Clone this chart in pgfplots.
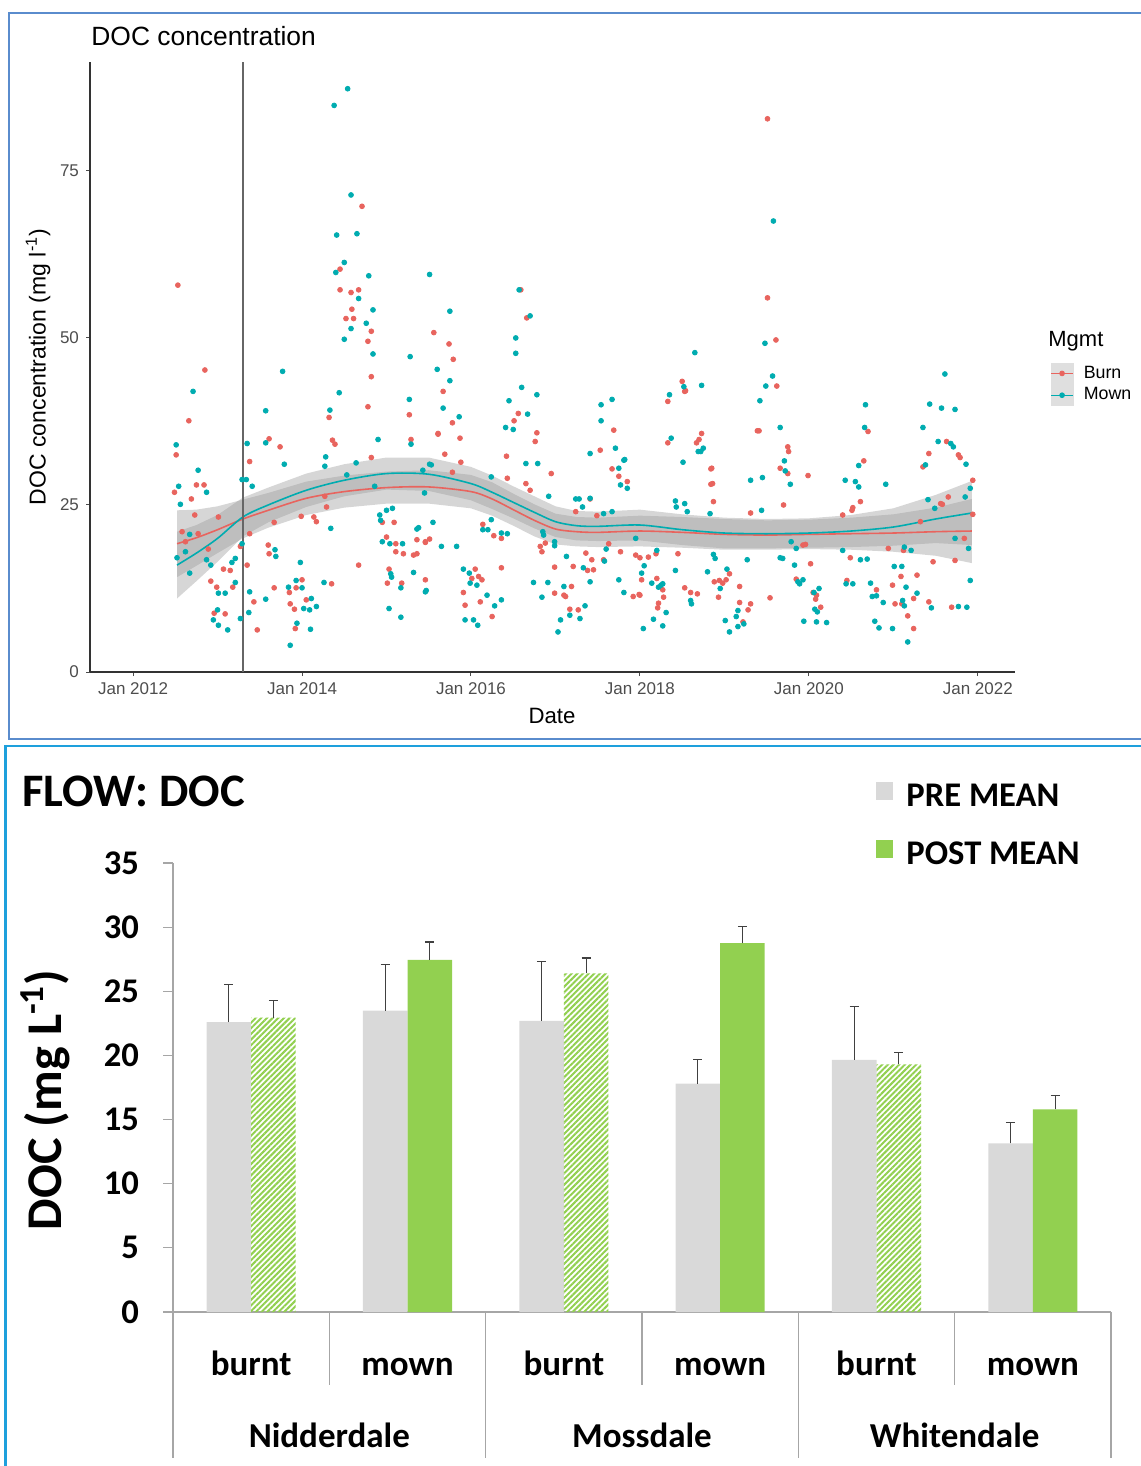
\documentclass[border=0pt]{standalone}
\usepackage{fontspec}
\setmainfont{Liberation Sans}
\newfontfamily\carlito{Carlito}
\usepackage{pgfplots}
\pgfplotsset{compat=1.18}
\usepgfplotslibrary{fillbetween}
\usetikzlibrary{patterns.meta}

\definecolor{burn}{RGB}{232,100,94}
\definecolor{mown}{RGB}{0,172,176}
\definecolor{band}{RGB}{153,153,153}
\definecolor{pregray}{RGB}{217,217,217}
\definecolor{postgreen}{RGB}{146,208,80}
\definecolor{framea}{RGB}{90,140,205}
\definecolor{frameb}{RGB}{30,160,220}
\definecolor{tickgray}{RGB}{77,77,77}
\definecolor{axgray}{RGB}{166,166,166}

\begin{document}
\begin{tikzpicture}
% panel frames
\draw[framea, line width=1pt] (575pt,-6.5pt) -- (4.5pt,-6.5pt) -- (4.5pt,-369.5pt) -- (575pt,-369.5pt);
\draw[frameb, line width=1.2pt] (575pt,-373pt) -- (2.75pt,-373pt) -- (2.75pt,-740pt);

% ---------------- top panel ----------------
\node[anchor=base west, inner sep=0pt, font=\fontsize{13.2}{15}\selectfont] at (45.5pt,-23pt) {DOC concentration};
\node[anchor=base, font=\fontsize{11.1}{13}\selectfont] at (276pt,-361.5pt) {Date};
\node[rotate=90, font=\fontsize{11.5}{13}\selectfont] at (19pt,-183.5pt) {DOC concentration (mg l\textsuperscript{-1})};
\node[anchor=west, inner sep=0pt, font=\fontsize{11}{13}\selectfont] at (524pt,-170.5pt) {Mgmt};

\begin{axis}[
  at={(45pt,-336pt)}, anchor=south west,
  scale only axis, width=462.5pt, height=305pt,
  xmin=2011.49, xmax=2022.44, ymin=0, ymax=91.3,
  axis x line*=bottom, axis y line*=left,
  axis line style={black!80, line width=0.9pt, -},
  xtick={2012,2014,2016,2018,2020,2022},
  xticklabels={Jan 2012, Jan 2014, Jan 2016, Jan 2018, Jan 2020, Jan 2022},
  ytick={0,25,50,75},
  tick align=outside, major tick length=2pt,
  tick style={black!70, line width=0.5pt},
  ticklabel style={font=\fontsize{8.5}{10}\selectfont, text=tickgray},
  /pgf/number format/assume math mode=true,
  clip=false,
  legend style={at={(1.0378,0.508)}, anchor=north west, draw=none, fill=none,
    font=\fontsize{8.9}{10}\selectfont, row sep=0pt, inner sep=0pt,
    cells={anchor=west}, nodes={inner sep=1.5pt},
    /tikz/every odd column/.append style={column sep=3.5pt}},
  legend image code/.code={
    \fill[gray!25] (0pt,-5.25pt) rectangle (11pt,5.25pt);
    \draw[#1, line width=0.7pt] (0pt,0pt) -- (11pt,0pt);
    \fill[#1] (5.5pt,0pt) circle (1.2pt);
  },
]
% points: Burn
\addplot[only marks, mark=*, mark size=1.2pt, color=burn, forget plot] coordinates {
(2012.53,57.9)(2012.85,45.2)(2012.66,37.6)(2012.51,32.5)(2012.49,26.9)(2012.75,28.0)(2012.84,28.0)(2012.69,25.9)(2012.73,23.5)(2012.58,21.0)(2012.77,20.7)(2012.89,18.4)(2013.01,23.2)(2013.07,15.4)(2013.15,15.2)(2012.92,13.6)(2013.18,12.7)(2012.99,12.7)(2012.96,8.8)(2013.09,8.7)(2013.27,18.8)(2012.62,19.5)
(2013.38,31.5)(2013.61,34.9)(2013.74,33.7)(2013.67,22.4)(2013.38,20.7)(2013.35,16.0)(2013.60,19.0)(2013.61,17.7)(2013.43,10.5)(2013.47,6.3)(2013.67,12.6)(2013.85,11.9)(2014.00,13.8)(2013.93,12.6)(2013.86,10.2)(2013.91,9.4)(2014.05,10.8)(2013.92,6.5)(2014.35,13.2)
(2014.32,38.1)(2014.36,34.7)(2014.39,34.1)(2014.14,23.2)(2014.17,22.5)(2013.99,23.3)(2014.27,26.3)(2014.29,24.7)(2014.67,16.0)(2014.78,39.7)(2014.82,32.1)(2014.71,69.7)(2014.45,60.3)(2014.45,57.2)(2014.58,56.8)(2014.67,57.2)(2014.59,54.3)(2014.52,52.9)(2014.61,52.9)(2014.82,51.0)(2014.78,49.5)(2014.82,44.2)
(2014.95,22.4)(2015.09,22.4)(2015.00,20.2)(2015.11,19.2)(2015.11,18.0)(2015.20,17.7)(2015.32,17.5)(2015.36,17.7)(2015.36,19.8)(2015.46,19.4)(2015.51,19.9)(2015.03,15.4)(2015.01,13.3)(2015.18,13.3)(2015.46,13.8)(2015.27,38.5)(2015.29,34.8)(2015.61,35.7)
(2015.56,50.8)(2015.74,49.1)(2015.79,46.8)(2015.67,42.0)(2015.78,37.3)(2015.87,35.0)(2015.61,35.6)(2015.69,32.6)(2015.88,31.4)(2015.78,29.9)(2015.46,19.5)
(2016.05,15.4)(2016.01,14.0)(2016.09,14.3)(2016.13,13.8)(2015.91,11.9)(2016.11,10.5)(2015.93,10.0)(2016.25,8.3)(2016.36,15.6)(2016.14,22.1)(2016.27,20.4)(2016.36,20.0)
(2016.43,29.0)(2016.42,32.3)(2016.51,37.6)(2016.56,38.7)(2016.59,57.2)(2016.66,53.0)(2016.78,35.8)(2016.76,34.5)(2016.65,28.2)(2016.70,27.2)(2016.95,29.7)(2016.88,19.3)(2016.82,18.8)(2016.84,18.0)(2016.99,15.7)(2016.99,11.8)
(2017.10,11.5)(2017.19,12.8)(2017.12,11.3)(2017.17,9.4)(2017.27,9.3)(2017.21,15.8)(2017.38,15.2)(2017.45,15.3)(2017.36,17.8)(2017.43,16.8)(2017.24,24.0)(2017.41,25.9)(2017.49,23.4)(2017.53,33.2)(2017.69,36.2)(2017.67,30.4)(2017.75,29.3)(2017.85,28.5)(2017.57,16.8)(2017.63,19.2)(2017.77,18.0)
(2017.92,11.3)(2018.00,11.5)(2018.02,13.8)(2017.95,17.5)(2018.33,40.5)(2018.50,43.5)(2018.54,42.1)(2018.53,42.0)(2018.33,34.3)(2018.67,34.3)(2018.73,35.7)(2018.70,34.8)(2018.85,30.5)(2018.86,28.2)(2018.87,25.5)(2018.84,28.1)(2018.84,30.4)
(2018.45,17.7)(2018.53,12.6)(2018.60,11.9)(2018.68,11.7)(2018.22,10.3)(2018.21,9.6)(2018.28,11.2)(2018.27,12.3)(2018.20,14.0)(2018.10,17.2)(2018.00,17.1)(2018.19,17.7)(2017.99,11.6)
(2018.88,13.5)(2018.94,13.7)(2018.93,11.2)(2018.98,13.3)(2019.06,14.7)(2019.02,13.8)(2019.18,12.8)(2019.18,10.4)(2019.28,9.3)(2019.31,10.2)(2019.22,7.5)(2019.31,23.8)(2019.39,36.1)(2019.41,36.1)(2019.62,42.8)(2019.51,82.8)(2019.51,56.0)(2019.61,49.7)(2019.66,30.5)(2019.75,29.7)(2019.76,33.0)(2019.75,33.7)(2019.70,25.0)(2019.54,11.1)(2019.85,13.9)(2019.93,19.0)(2019.96,19.1)(2019.99,29.4)
(2020.02,16.2)(2020.05,11.9)(2020.08,10.9)(2020.14,9.7)(2020.09,11.5)(2020.70,36.0)(2020.65,31.6)(2020.61,25.5)(2020.52,24.6)(2020.51,24.2)(2020.40,23.5)(2020.49,17.1)(2020.45,13.7)(2020.80,12.3)(2020.94,18.5)(2020.99,13.0)(2021.09,14.3)(2021.12,18.2)(2021.02,10.2)(2021.10,10.2)(2021.17,8.4)(2021.24,6.5)(2021.24,11.0)(2021.28,14.5)
(2021.42,32.7)(2021.35,30.7)(2021.63,34.5)(2021.77,32.5)(2021.79,32.1)(2021.94,28.7)(2021.65,26.2)(2021.56,25.2)(2021.58,25.1)(2021.47,16.5)(2021.84,20.0)(2021.94,23.6)(2021.73,16.7)(2021.42,10.5)(2021.69,9.7)(2021.32,22.5)
};
% points: Mown
\addplot[only marks, mark=*, mark size=1.2pt, color=mown, forget plot] coordinates {
(2012.71,42.0)(2012.51,34.0)(2012.77,30.2)(2012.54,27.8)(2012.87,26.9)(2012.56,25.1)(2012.67,20.6)(2012.52,17.1)(2012.62,18.0)(2012.67,14.8)(2012.87,16.8)(2012.92,16.0)(2013.17,16.4)(2013.21,17.0)(2013.21,13.4)(2013.01,11.8)(2013.09,11.8)(2013.00,9.3)(2012.95,7.8)(2013.01,7.0)(2013.12,6.3)(2013.27,8.0)
(2013.29,19.2)(2013.29,28.8)(2013.34,28.8)(2013.35,34.2)(2013.41,27.8)(2013.57,39.1)(2013.57,34.3)(2013.79,31.1)(2013.68,18.3)(2013.69,17.3)(2013.38,12.0)(2013.37,8.9)(2013.57,10.9)(2013.84,12.7)(2013.93,13.7)(2014.00,12.6)(2013.98,16.4)(2014.02,9.5)(2014.11,11.0)(2014.09,9.3)(2014.17,9.8)(2013.94,7.3)(2014.10,6.4)(2013.86,4.0)(2014.26,13.4)
(2014.33,39.2)(2014.44,41.8)(2014.28,32.2)(2014.27,30.8)(2014.34,21.5)(2014.53,29.5)(2014.64,31.3)(2014.90,34.8)(2014.86,27.8)(2014.92,23.5)(2014.93,22.7)(2015.00,24.2)(2015.07,24.5)(2014.95,19.5)(2015.04,19.2)(2015.19,19.2)(2015.36,21.4)(2015.38,21.6)(2015.05,14.7)(2015.06,14.2)(2015.17,12.6)(2015.03,9.5)(2015.17,8.2)(2015.32,14.9)(2015.47,12.2)
(2015.27,40.8)(2015.29,34.1)(2015.43,30.2)(2015.51,31.1)(2015.45,26.8)(2015.55,22.4)(2014.54,87.3)(2014.38,84.8)(2014.58,71.4)(2014.41,65.4)(2014.65,65.6)(2014.50,61.3)(2014.40,59.8)(2014.79,59.3)(2015.51,59.5)(2014.67,55.9)(2014.84,54.2)(2014.58,51.4)(2014.76,52.2)(2014.50,49.8)(2014.84,47.6)(2015.28,47.2)(2013.77,45.0)(2015.60,45.3)
(2015.75,54.0)(2015.75,43.6)(2015.67,39.5)(2015.86,38.2)(2015.53,31.0)(2015.65,18.8)(2015.83,18.8)(2015.46,12.0)(2015.91,15.4)(2015.98,14.8)(2015.99,13.3)(2016.07,13.0)(2016.19,11.5)(2016.28,9.9)(2016.36,10.8)(2015.93,7.8)(2016.03,7.8)(2016.08,7.0)
(2016.14,21.3)(2016.20,21.3)(2016.24,22.8)(2016.36,20.8)(2016.43,20.7)(2016.24,29.2)(2016.45,40.6)(2016.41,36.6)(2016.50,36.3)(2016.53,50.0)(2016.53,47.7)(2016.57,57.2)(2016.70,53.3)(2016.60,42.6)(2016.67,38.6)(2016.78,41.5)(2016.65,31.2)(2016.79,31.2)(2016.92,26.3)(2016.85,21.0)(2016.86,20.5)(2016.99,19.5)(2016.99,18.9)(2016.74,13.4)(2016.91,13.4)(2016.84,11.2)
(2017.10,12.8)(2017.06,7.8)(2017.03,6.0)(2017.17,8.5)(2017.29,8.0)(2017.35,9.9)(2017.13,17.3)(2017.33,15.6)(2017.41,13.5)(2017.24,25.9)(2017.28,25.9)(2017.32,24.7)(2017.41,32.7)(2017.41,26.0)(2017.57,23.7)(2017.54,40.0)(2017.54,37.6)(2017.67,40.8)(2017.71,33.5)(2017.75,30.5)(2017.81,31.7)(2017.67,24.0)(2017.60,18.4)(2017.58,16.6)(2017.75,13.8)(2017.81,11.9)
(2018.02,14.8)(2018.04,6.5)(2017.82,31.8)(2017.77,28.0)(2017.85,27.5)(2018.20,18.2)(2018.25,13.0)(2018.22,12.7)(2018.16,7.9)(2018.27,6.9)(2018.31,8.9)(2018.27,13.2)(2018.14,13.3)(2018.05,15.9)(2017.95,20.0)
(2018.35,41.5)(2018.52,42.7)(2018.73,42.9)(2018.65,47.8)(2018.37,35.0)(2018.51,31.4)(2018.72,33.0)(2018.75,33.5)(2018.69,33.0)(2018.42,25.6)(2018.43,24.7)(2018.53,25.2)(2018.56,24.0)(2018.83,23.7)(2018.42,15.2)(2018.60,10.7)(2018.61,10.2)(2018.80,15.0)(2018.89,17.0)(2018.87,17.6)
(2018.95,12.5)(2019.03,15.4)(2019.01,7.7)(2019.16,9.2)(2019.14,8.3)(2019.23,7.2)(2019.16,6.8)(2019.06,6.0)(2019.27,16.8)(2019.44,24.2)(2019.45,29.1)(2019.31,28.7)(2019.42,40.6)(2019.49,42.8)(2019.57,44.3)(2019.66,36.6)(2019.58,67.5)(2019.48,49.2)(2019.66,17.1)(2019.69,17.0)(2019.79,19.5)(2019.85,18.5)(2019.83,16.0)(2019.93,13.8)(2019.87,13.5)(2019.89,13.2)(2019.78,28.1)(2019.72,30.1)(2019.71,31.6)
(2020.06,11.9)(2020.12,12.5)(2020.10,9.0)(2020.07,9.4)(2019.94,7.6)(2020.09,7.5)(2020.21,7.4)(2020.43,28.7)(2020.55,28.5)(2020.59,27.7)(2020.59,30.9)(2020.67,40.0)(2020.66,36.6)(2020.40,18.2)(2020.61,16.8)(2020.69,16.9)(2020.44,13.2)(2020.52,13.2)(2020.73,13.3)(2020.75,11.3)(2020.80,11.4)(2020.88,10.4)(2020.78,7.6)(2020.83,6.6)(2020.99,6.5)
(2021.01,15.8)(2021.10,15.8)(2021.15,12.7)(2021.11,10.7)(2021.13,9.9)(2021.17,4.5)(2021.13,18.7)(2021.21,18.2)(2020.91,28.1)(2021.43,40.1)(2021.57,39.5)(2021.73,39.3)(2021.61,44.6)(2021.35,36.6)(2021.53,34.5)(2021.68,34.2)(2021.71,33.7)(2021.86,31.1)(2021.91,27.5)(2021.85,26.2)(2021.38,31.0)(2021.49,24.5)(2021.41,25.8)(2021.91,13.7)(2021.45,9.6)(2021.77,9.8)(2021.87,9.7)(2021.28,11.8)(2021.89,18.5)(2021.73,20.0)
};
% confidence bands
\addplot[draw=none, name path=ru, forget plot] coordinates {(2012.52,24.2)(2012.75,24.3)(2013.0,24.8)(2013.3,25.8)(2013.6,26.8)(2014.05,28.5)(2014.5,29.4)(2015.0,30.0)(2015.5,30.2)(2016.0,29.5)(2016.25,28.4)(2016.5,26.7)(2016.75,25.1)(2017.0,23.7)(2017.25,23.2)(2017.5,23.1)(2018.0,23.4)(2018.5,23.2)(2019.0,22.9)(2019.5,22.7)(2020.0,22.8)(2020.5,23.1)(2021.0,23.6)(2021.5,24.6)(2021.93,25.9)};
\addplot[draw=none, name path=rl, forget plot] coordinates {(2012.52,14.2)(2012.75,15.9)(2013.0,17.8)(2013.3,20.0)(2013.6,21.6)(2014.05,23.5)(2014.5,24.6)(2015.0,25.2)(2015.5,25.2)(2016.0,24.5)(2016.25,23.4)(2016.5,21.9)(2016.75,20.3)(2017.0,19.1)(2017.25,18.8)(2017.5,18.7)(2018.0,18.8)(2018.5,18.6)(2019.0,18.3)(2019.5,18.3)(2020.0,18.4)(2020.5,18.3)(2021.0,18.0)(2021.5,17.4)(2021.93,16.3)};
\addplot[draw=none, name path=tu, forget plot] coordinates {(2012.52,21.0)(2012.75,22.0)(2013.0,23.5)(2013.3,26.1)(2013.6,27.6)(2014.05,29.7)(2014.5,31.1)(2015.0,32.1)(2015.5,32.1)(2016.0,30.7)(2016.25,29.4)(2016.5,27.8)(2016.75,26.3)(2017.0,24.8)(2017.25,24.1)(2017.5,24.0)(2018.0,24.3)(2018.5,23.6)(2019.0,23.1)(2019.5,22.9)(2020.0,23.0)(2020.5,23.5)(2021.0,24.5)(2021.5,26.5)(2021.93,28.6)};
\addplot[draw=none, name path=tl, forget plot] coordinates {(2012.52,11.0)(2012.75,13.6)(2013.0,16.5)(2013.3,20.3)(2013.6,22.4)(2014.05,24.7)(2014.5,26.3)(2015.0,27.3)(2015.5,27.1)(2016.0,25.7)(2016.25,24.4)(2016.5,23.0)(2016.75,21.5)(2017.0,20.2)(2017.25,19.7)(2017.5,19.6)(2018.0,19.7)(2018.5,19.0)(2019.0,18.5)(2019.5,18.5)(2020.0,18.6)(2020.5,18.7)(2021.0,18.9)(2021.5,19.3)(2021.93,19.0)};
\addplot[fill=band, fill opacity=0.4, draw=none, forget plot] fill between[of=ru and rl];
\addplot[fill=band, fill opacity=0.4, draw=none, forget plot] fill between[of=tu and tl];
% smooth lines
\addplot[burn, line width=0.8pt, smooth, forget plot] coordinates {(2012.52,19.2)(2012.75,20.1)(2013.0,21.3)(2013.3,22.9)(2013.6,24.2)(2014.05,26.0)(2014.5,27.0)(2015.0,27.6)(2015.5,27.7)(2016.0,27.0)(2016.25,25.9)(2016.5,24.3)(2016.75,22.7)(2017.0,21.4)(2017.25,21.0)(2017.5,20.9)(2018.0,21.1)(2018.5,20.9)(2019.0,20.6)(2019.5,20.5)(2020.0,20.6)(2020.5,20.7)(2021.0,20.8)(2021.5,21.0)(2021.93,21.1)};
\addplot[mown, line width=0.8pt, smooth, forget plot] coordinates {(2012.52,16.0)(2012.75,17.8)(2013.0,20.0)(2013.3,23.2)(2013.6,25.0)(2014.05,27.2)(2014.5,28.7)(2015.0,29.7)(2015.5,29.6)(2016.0,28.2)(2016.25,26.9)(2016.5,25.4)(2016.75,23.9)(2017.0,22.5)(2017.25,21.9)(2017.5,21.8)(2018.0,22.0)(2018.5,21.3)(2019.0,20.8)(2019.5,20.7)(2020.0,20.8)(2020.5,21.1)(2021.0,21.7)(2021.5,22.9)(2021.93,23.8)};
% vertical reference line
\addplot[black!60, line width=0.8pt, forget plot] coordinates {(2013.3,0)(2013.3,91.3)};
\addlegendimage{color=burn}\addlegendentry{Burn}
\addlegendimage{color=mown}\addlegendentry{Mown}
\end{axis}

% ---------------- bottom panel ----------------
\node[anchor=base west, inner sep=0pt, font=\carlito\bfseries\fontsize{23.3}{25}\selectfont] at (11pt,-403pt) {FLOW: DOC};
\fill[pregray] (438pt,-391pt) rectangle (446.5pt,-400pt);
\fill[postgreen] (438pt,-420pt) rectangle (446.5pt,-429pt);
\node[anchor=base west, font=\carlito\bfseries\fontsize{17.3}{19}\selectfont, inner sep=0pt] at (453pt,-403pt) {PRE MEAN};
\node[anchor=base west, font=\carlito\bfseries\fontsize{17.3}{19}\selectfont, inner sep=0pt] at (453pt,-432pt) {POST MEAN};
\node[rotate=90, font=\carlito\bfseries\fontsize{25}{27}\selectfont] at (22.5pt,-550pt) {DOC (mg L\textsuperscript{-1})};

\begin{axis}[
  at={(86.5pt,-656pt)}, anchor=south west,
  scale only axis, width=469pt, height=224.5pt,
  xmin=-0.5, xmax=5.5, ymin=0, ymax=35,
  axis x line*=bottom, axis y line*=left,
  axis line style={axgray, line width=0.6pt, -},
  ytick={0,5,...,35}, xtick=\empty,
  y tick style={axgray, line width=0.6pt}, tick align=outside, major tick length=5pt,
  yticklabel style={font=\carlito\bfseries\fontsize{17.3}{17}\selectfont, text=black, xshift=-8.5pt},
  /pgf/number format/assume math mode=true,
  clip=false,
  ybar, bar width=0.285,
  error bars/y dir=plus, error bars/y explicit,
  error bars/error bar style={black!75, line width=0.6pt},
  error bars/error mark options={rotate=90, mark size=2.3pt, line width=0.6pt, black!75},
]
\addplot[fill=pregray, draw=none, bar shift=-0.1425] coordinates {
  (0,22.6) +- (0,2.9) (1,23.5) +- (0,3.6) (2,22.7) +- (0,4.6)
  (3,17.8) +- (0,1.9) (4,19.65) +- (0,4.15) (5,13.15) +- (0,1.6)};
\addplot[fill=postgreen, draw=none, bar shift=0.1425] coordinates {
  (1,27.45) +- (0,1.4) (3,28.75) +- (0,1.3) (5,15.8) +- (0,1.05)};
\addplot[pattern={Lines[angle=45,distance=2pt,line width=1pt]}, pattern color=postgreen, draw=none, bar shift=0.1425] coordinates {
  (0,22.95) +- (0,1.35) (2,26.4) +- (0,1.2) (4,19.3) +- (0,0.9)};
% category separators and labels
\draw[axgray, line width=0.6pt] (axis cs:0.5,0) -- ++(0pt,-36.5pt);
\draw[axgray, line width=0.6pt] (axis cs:2.5,0) -- ++(0pt,-36.5pt);
\draw[axgray, line width=0.6pt] (axis cs:4.5,0) -- ++(0pt,-36.5pt);
\draw[axgray, line width=0.6pt] (axis cs:-0.5,0) -- ++(0pt,-73pt);
\draw[axgray, line width=0.6pt] (axis cs:1.5,0) -- ++(0pt,-73pt);
\draw[axgray, line width=0.6pt] (axis cs:3.5,0) -- ++(0pt,-73pt);
\draw[axgray, line width=0.6pt] (axis cs:5.5,0) -- ++(0pt,-73pt);
\node[anchor=base, inner sep=0pt, font=\carlito\bfseries\fontsize{17.5}{19}\selectfont] at ([yshift=-31.5pt]axis cs:0,0) {burnt};
\node[anchor=base, inner sep=0pt, font=\carlito\bfseries\fontsize{17.5}{19}\selectfont] at ([yshift=-31.5pt]axis cs:1,0) {mown};
\node[anchor=base, inner sep=0pt, font=\carlito\bfseries\fontsize{17.5}{19}\selectfont] at ([yshift=-31.5pt]axis cs:2,0) {burnt};
\node[anchor=base, inner sep=0pt, font=\carlito\bfseries\fontsize{17.5}{19}\selectfont] at ([yshift=-31.5pt]axis cs:3,0) {mown};
\node[anchor=base, inner sep=0pt, font=\carlito\bfseries\fontsize{17.5}{19}\selectfont] at ([yshift=-31.5pt]axis cs:4,0) {burnt};
\node[anchor=base, inner sep=0pt, font=\carlito\bfseries\fontsize{17.5}{19}\selectfont] at ([yshift=-31.5pt]axis cs:5,0) {mown};
\node[anchor=base, inner sep=0pt, font=\carlito\bfseries\fontsize{17.5}{19}\selectfont] at ([yshift=-67.5pt]axis cs:0.5,0) {Nidderdale};
\node[anchor=base, inner sep=0pt, font=\carlito\bfseries\fontsize{17.5}{19}\selectfont] at ([yshift=-67.5pt]axis cs:2.5,0) {Mossdale};
\node[anchor=base, inner sep=0pt, font=\carlito\bfseries\fontsize{17.5}{19}\selectfont] at ([yshift=-67.5pt]axis cs:4.5,0) {Whitendale};
\end{axis}

\pgfresetboundingbox
\useasboundingbox (0pt,0pt) rectangle (570pt,-733pt);
\end{tikzpicture}
\end{document}
